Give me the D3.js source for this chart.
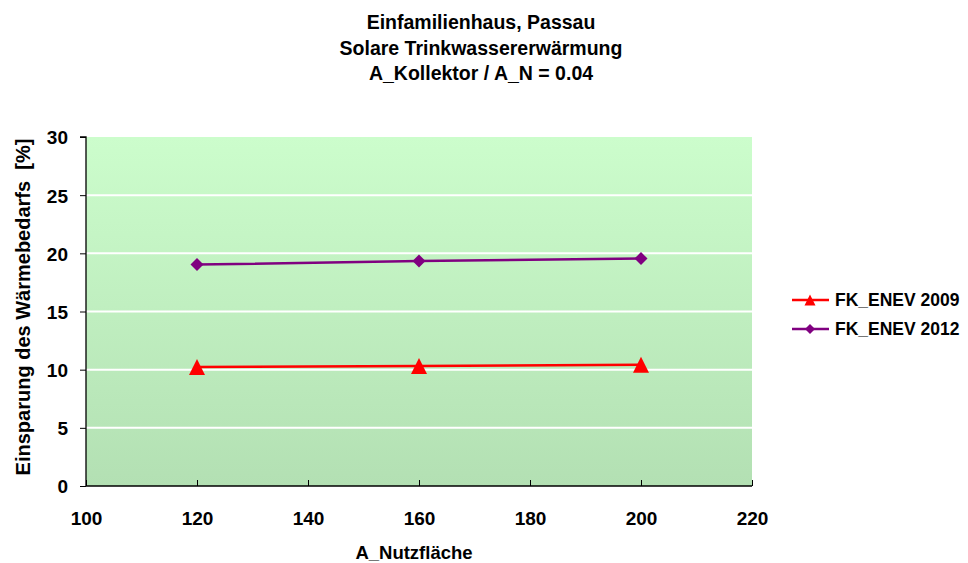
<!DOCTYPE html>
<html>
<head>
<meta charset="utf-8">
<script src="https://cdn.jsdelivr.net/npm/d3@7"></script>
<style>
  body { margin: 0; background: #fff; }
  svg text { font-family: Arial, "Liberation Sans", sans-serif; font-weight: bold; fill: #000; }
</style>
</head>
<body>
<svg id="chart" width="968" height="563"></svg>
<script>
// Nutzfläche values (x) and saved share of heat demand (%)
const areas = [120, 160, 200];
const enev2009 = [10.23, 10.32, 10.43];
const enev2012 = [19.03, 19.35, 19.55];
const seriesNames = ["FK_ENEV 2009", "FK_ENEV 2012"];
const xTicks = [100, 120, 140, 160, 180, 200, 220];
const yTicks = [0, 5, 10, 15, 20, 25, 30];
const titleLines = ["Einfamilienhaus, Passau", "Solare Trinkwassererwärmung", "A_Kollektor / A_N = 0.04"];

const svg = d3.select("#chart");
const plot = { left: 86, right: 752, top: 137, bottom: 486 };

const x = d3.scaleLinear().domain([100, 220]).range([plot.left, plot.right]);
const y = d3.scaleLinear().domain([0, 30]).range([plot.bottom, plot.top]);

// Plot background gradient
const defs = svg.append("defs");
const grad = defs.append("linearGradient").attr("id", "bg").attr("x1", 0).attr("y1", 0).attr("x2", 0).attr("y2", 1);
grad.append("stop").attr("offset", "0%").attr("stop-color", "#ccfdcc");
grad.append("stop").attr("offset", "100%").attr("stop-color", "#b3e0b3");
svg.append("rect")
  .attr("x", plot.left).attr("y", plot.top)
  .attr("width", plot.right - plot.left).attr("height", plot.bottom - plot.top)
  .attr("fill", "url(#bg)");

// Horizontal gridlines
svg.append("g").selectAll("line")
  .data(yTicks.filter(v => v > 0 && v < 30))
  .join("line")
  .attr("x1", plot.left).attr("x2", plot.right)
  .attr("y1", d => y(d)).attr("y2", d => y(d))
  .attr("stroke", "#fff").attr("stroke-width", 2);

// Axes
const yAxis = d3.axisLeft(y).tickValues(yTicks).tickSize(6).tickPadding(12).tickFormat(d3.format("d"));
const gy = svg.append("g").attr("transform", `translate(${plot.left},0)`).call(yAxis);
gy.select(".domain").attr("stroke", "#000").attr("stroke-width", 1.3).attr("d", `M-6,${plot.top}H0V${plot.bottom}`);
gy.selectAll(".tick line").attr("stroke", "#000");
gy.selectAll(".tick text").attr("font-size", 19).attr("dy", "0.36em");

const xAxis = d3.axisBottom(x).tickValues(xTicks).tickSize(0).tickPadding(0).tickFormat(d3.format("d"));
const gx = svg.append("g").attr("transform", `translate(0,${plot.bottom})`).call(xAxis);
gx.select(".domain").attr("stroke", "#000").attr("stroke-width", 1.3).attr("d", `M${plot.left},0H${plot.right}`);
gx.selectAll(".tick line").attr("y2", -6).attr("stroke", "#000");
gx.selectAll(".tick text").attr("font-size", 19).attr("y", 38.5).attr("dy", "0");

// Axis titles
svg.append("text").attr("x", 414).attr("y", 559)
  .attr("text-anchor", "middle").attr("font-size", 18.5).text("A_Nutzfläche");
svg.append("text").attr("transform", `translate(30,${307}) rotate(-90)`)
  .attr("text-anchor", "middle").attr("font-size", 20)
  .attr("xml:space", "preserve").style("white-space", "pre")
  .text("Einsparung des Wärmebedarfs  [%]");

// Title
svg.append("g").selectAll("text").data(titleLines).join("text")
  .attr("x", 481).attr("y", (d, i) => 29 + i * 25.5)
  .attr("text-anchor", "middle").attr("font-size", 19.5).text(d => d);

// Marker shapes: tall triangle and square diamond
const triangle = s => `M0,${-s / 2}L${s / 2},${s / 2}L${-s / 2},${s / 2}Z`;
const diamond = s => `M0,${-s / 2}L${s / 2},0L0,${s / 2}L${-s / 2},0Z`;

// Series
const series = [
  { name: seriesNames[0], values: enev2009, color: "#ff0000", shape: triangle, size: 16, lsize: 11 },
  { name: seriesNames[1], values: enev2012, color: "#800080", shape: diamond, size: 13, lsize: 10 }
];
const line = d3.line().x(d => x(d[0])).y(d => y(d[1]));

series.forEach(s => {
  const pts = areas.map((a, i) => [a, s.values[i]]);
  svg.append("path").attr("d", line(pts)).attr("fill", "none")
    .attr("stroke", s.color).attr("stroke-width", 2.5);
  svg.append("g").selectAll("path").data(pts).join("path")
    .attr("transform", d => `translate(${x(d[0])},${y(d[1])})`)
    .attr("d", s.shape(s.size))
    .attr("fill", s.color);
});

// Legend
const legend = svg.append("g");
series.forEach((s, i) => {
  const ly = 300 + i * 29;
  legend.append("line").attr("x1", 792).attr("x2", 829).attr("y1", ly).attr("y2", ly)
    .attr("stroke", s.color).attr("stroke-width", 2.5);
  legend.append("path").attr("transform", `translate(810,${ly})`)
    .attr("d", s.shape(s.lsize)).attr("fill", s.color);
  legend.append("text").attr("x", 835).attr("y", ly).attr("dy", "0.36em")
    .attr("font-size", 17.5).text(s.name);
});
</script>
</body>
</html>
